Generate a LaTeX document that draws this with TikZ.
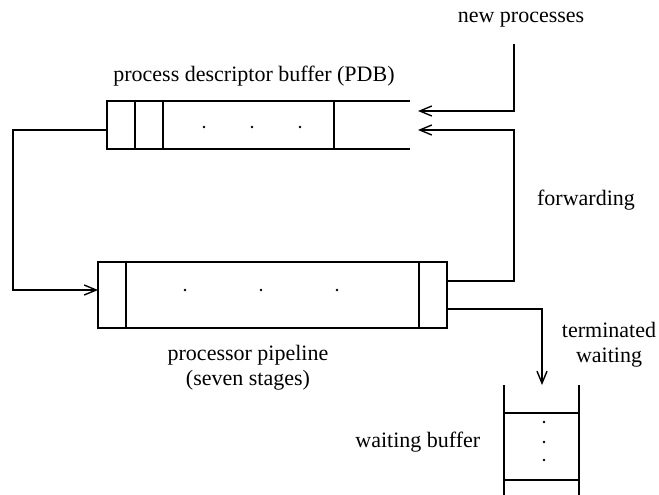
\documentclass[tikz,border=0pt]{standalone}
\usepackage{fontspec}
\setmainfont{Liberation Serif}
\usetikzlibrary{arrows.meta}
\begin{document}
\begin{tikzpicture}[x=1pt,y=-1pt,line width=1.4pt,
  lbl/.style={font=\fontsize{22}{25}\selectfont,inner sep=0pt,align=center},
  box/.style={draw,inner sep=0pt,outer sep=0pt,anchor=north west},
  tip/.style={-{Straight Barb[length=12pt,width=10pt,line width=1.4pt]}},
  dot/.style={circle,fill,inner sep=0pt,minimum size=2.6pt}]
\useasboundingbox (0,0) rectangle (659,495);

% process descriptor buffer: closed cells on the left, open on the right
\node[box,minimum width=227pt,minimum height=48pt] (pdb) at (107,101) {};
\draw (135,101) -- (135,149);
\draw (163,101) -- (163,149);
\coordinate (pdbtop) at (410,101);
\coordinate (pdbbot) at (410,149);
\draw (pdb.north east) -- (pdbtop);
\draw (pdb.south east) -- (pdbbot);
\node[dot] at (204,127) {};
\node[dot] at (252,127) {};
\node[dot] at (300,127) {};
\coordinate (pdbin1) at (418,111);
\coordinate (pdbin2) at (418,130);
\coordinate (pdbout) at (107,130);

% processor pipeline
\node[box,minimum width=349pt,minimum height=66pt] (pipe) at (98,262) {};
\draw (126,262) -- (126,328);
\draw (419,262) -- (419,328);
\node[dot] at (185,290) {};
\node[dot] at (261,290) {};
\node[dot] at (337,290) {};
\coordinate (pipein) at (98,290);
\coordinate (pipeout1) at (447,281);
\coordinate (pipeout2) at (447,309);

% waiting buffer
\coordinate (wbl) at (504,385);
\coordinate (wbr) at (579,385);
\coordinate (wbin) at (542,385);
\draw (wbl) -- (504,495);
\draw (wbr) -- (579,495);
\draw (504,413) -- (579,413);
\draw (504,480) -- (579,480);
\node[dot] at (544,422) {};
\node[dot] at (544,442) {};
\node[dot] at (544,460) {};

% connectors
\coordinate (newsrc) at (514,44);
\draw[tip] (newsrc) |- (pdbin1);
\draw[tip] (pipeout1) -| (514,130) -- (pdbin2);
\draw[tip] (pdbout) -- (13,130) |- (pipein);
\draw[tip] (pipeout2) -| (wbin);

% labels
\node[lbl] (lnew) at (521,20) {new processes};
\node[lbl] (lpdb) at (254,76) {process descriptor buffer (PDB)};
\node[lbl] (lfwd) at (586,200) {forwarding};
\node[lbl] (lterm) at (609,345) {terminated\\waiting};
\node[lbl] (lpipe) at (248,368) {processor pipeline\\(seven stages)};
\node[lbl,anchor=east] (lwb) at (481,442) {waiting buffer};
\end{tikzpicture}
\end{document}
